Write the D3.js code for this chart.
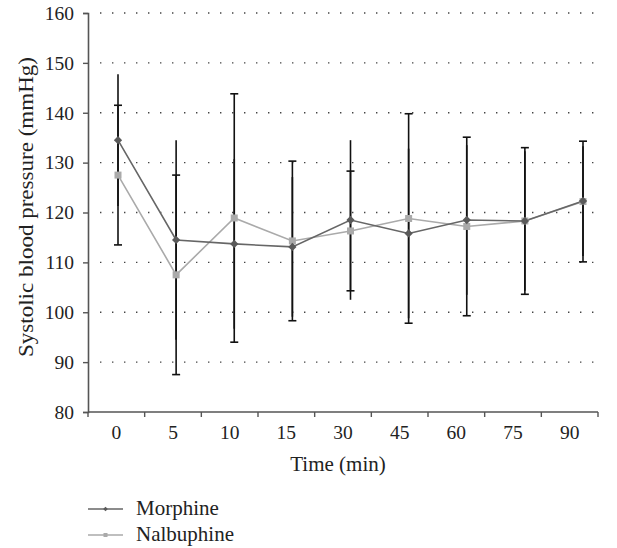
<!DOCTYPE html>
<html>
<head>
<meta charset="utf-8">
<script src="https://cdn.jsdelivr.net/npm/d3@7/dist/d3.min.js"></script>
<style>
  html, body { margin: 0; padding: 0; background: #fff; }
  svg { display: block; }
  text { font-family: "Liberation Serif", "Times New Roman", serif; fill: #222; }
</style>
</head>
<body>
<svg id="chart" width="617" height="548"></svg>
<script>
const times = ["0", "5", "10", "15", "30", "45", "60", "75", "90"];
const morphine = [134.5, 114.5, 113.7, 113.1, 118.5, 115.8, 118.5, 118.3, 122.3];
const morphineErr = [13.2, 20.0, 17.0, 14.0, 16.0, 17.0, 15.0, 14.0, 11.0];
const nalbuphine = [127.5, 107.5, 118.9, 114.3, 116.3, 118.8, 117.2, 118.3, 122.2];
const nalbuphineErr = [14.0, 20.0, 24.9, 16.0, 12.0, 21.0, 17.9, 14.7, 12.1];
const yTicks = [80, 90, 100, 110, 120, 130, 140, 150, 160];
const seriesNames = ["Morphine", "Nalbuphine"];

const svg = d3.select("#chart");
const pLeft = 88, pRight = 598, pTop = 13, pBottom = 412;

const y = d3.scaleLinear().domain([80, 160]).range([pBottom, pTop]);
const xAxisScale = d3.scaleBand().domain(times).range([pLeft, pRight]);
const x = d3.scalePoint().domain(times).range([118, 583]);

// dotted gridlines
svg.append("g").selectAll("line").data(yTicks.filter(d => d > 80)).join("line")
  .attr("x1", 100).attr("x2", pRight)
  .attr("y1", d => y(d)).attr("y2", d => y(d))
  .attr("stroke", "#444").attr("stroke-width", 1.4)
  .attr("stroke-dasharray", "1.4,10.6");

// y axis
const yAxis = svg.append("g").attr("transform", `translate(${pLeft},0)`)
  .call(d3.axisLeft(y).tickValues(yTicks).tickSize(5).tickPadding(9).tickFormat(d3.format("d")));
yAxis.select(".domain").attr("stroke", "#555").attr("stroke-width", 1.6);
yAxis.selectAll(".tick line").attr("stroke", "#555").attr("stroke-width", 1.4);
yAxis.selectAll(".tick text").attr("font-size", 19.5).attr("fill", "#222")
  .style("font-family", "'Liberation Serif', serif");

// x axis
const xAxis = svg.append("g").attr("transform", `translate(0,${pBottom})`)
  .call(d3.axisBottom(xAxisScale).tickSize(0).tickPadding(13));
xAxis.select(".domain").remove();
xAxis.append("line").attr("x1", pLeft).attr("x2", pRight).attr("y1", 0).attr("y2", 0)
  .attr("stroke", "#555").attr("stroke-width", 1.6);
const bounds = times.map(t => xAxisScale(t)).concat([pRight]);
xAxis.selectAll(".bt").data(bounds).join("line").attr("class", "bt")
  .attr("x1", d => d).attr("x2", d => d).attr("y1", 0).attr("y2", 5)
  .attr("stroke", "#555").attr("stroke-width", 1.4);
xAxis.selectAll(".tick text").attr("font-size", 19.5).attr("fill", "#222")
  .style("font-family", "'Liberation Serif', serif");

// axis titles
svg.append("text").attr("x", 338).attr("y", 471)
  .attr("text-anchor", "middle").attr("font-size", 21).text("Time (min)");
svg.append("text").attr("transform", `translate(33,207) rotate(-90)`)
  .attr("text-anchor", "middle").attr("font-size", 21)
  .attr("textLength", 300).attr("lengthAdjust", "spacingAndGlyphs")
  .text("Systolic blood pressure (mmHg)");

// error bars: morphine (no caps)
const eb = svg.append("g");
eb.selectAll(".em").data(times).join("line").attr("class", "em")
  .attr("x1", d => x(d)).attr("x2", d => x(d))
  .attr("y1", (d, i) => y(morphine[i] + morphineErr[i]))
  .attr("y2", (d, i) => y(morphine[i] - morphineErr[i]))
  .attr("stroke", "#111").attr("stroke-width", 1.6);
// nalbuphine (with caps)
eb.selectAll(".en").data(times).join("line").attr("class", "en")
  .attr("x1", d => x(d)).attr("x2", d => x(d))
  .attr("y1", (d, i) => y(nalbuphine[i] + nalbuphineErr[i]))
  .attr("y2", (d, i) => y(nalbuphine[i] - nalbuphineErr[i]))
  .attr("stroke", "#111").attr("stroke-width", 1.6);
[1, -1].forEach(s => {
  eb.selectAll(".cap" + (s > 0 ? "u" : "d")).data(times).join("line")
    .attr("class", "cap" + (s > 0 ? "u" : "d"))
    .attr("x1", d => x(d) - 4).attr("x2", d => x(d) + 4)
    .attr("y1", (d, i) => y(nalbuphine[i] + s * nalbuphineErr[i]))
    .attr("y2", (d, i) => y(nalbuphine[i] + s * nalbuphineErr[i]))
    .attr("stroke", "#111").attr("stroke-width", 1.6);
});

const line = d3.line().x(d => x(d[0])).y(d => y(d[1]));
const colM = "#666", colN = "#aaa";

// lines
svg.append("path").datum(times.map((t, i) => [t, nalbuphine[i]]))
  .attr("d", line).attr("fill", "none").attr("stroke", colN).attr("stroke-width", 1.6);
svg.append("path").datum(times.map((t, i) => [t, morphine[i]]))
  .attr("d", line).attr("fill", "none").attr("stroke", colM).attr("stroke-width", 1.6);

// markers
svg.append("g").selectAll("rect").data(times).join("rect")
  .attr("x", d => x(d) - 3.5).attr("y", (d, i) => y(nalbuphine[i]) - 3.5)
  .attr("width", 7).attr("height", 7).attr("fill", colN);
svg.append("g").selectAll("path").data(times).join("path")
  .attr("d", d3.symbol(d3.symbolDiamond2, 44))
  .attr("transform", (d, i) => `translate(${x(d)},${y(morphine[i])})`)
  .attr("fill", "#5a5a5a");

// legend
const leg = svg.append("g");
const legCols = [colM, colN];
seriesNames.forEach((name, i) => {
  const ly = 509 + i * 26;
  leg.append("line").attr("x1", 88).attr("x2", 123).attr("y1", ly).attr("y2", ly)
    .attr("stroke", legCols[i]).attr("stroke-width", 1.4);
  if (i === 0) {
    leg.append("path").attr("d", d3.symbol(d3.symbolDiamond2, 14))
      .attr("transform", `translate(105.5,${ly})`).attr("fill", "#5a5a5a");
  } else {
    leg.append("rect").attr("x", 103.5).attr("y", ly - 2).attr("width", 4).attr("height", 4).attr("fill", colN);
  }
  leg.append("text").attr("x", 136).attr("y", ly + 6).attr("font-size", 21).text(name);
});
</script>
</body>
</html>
